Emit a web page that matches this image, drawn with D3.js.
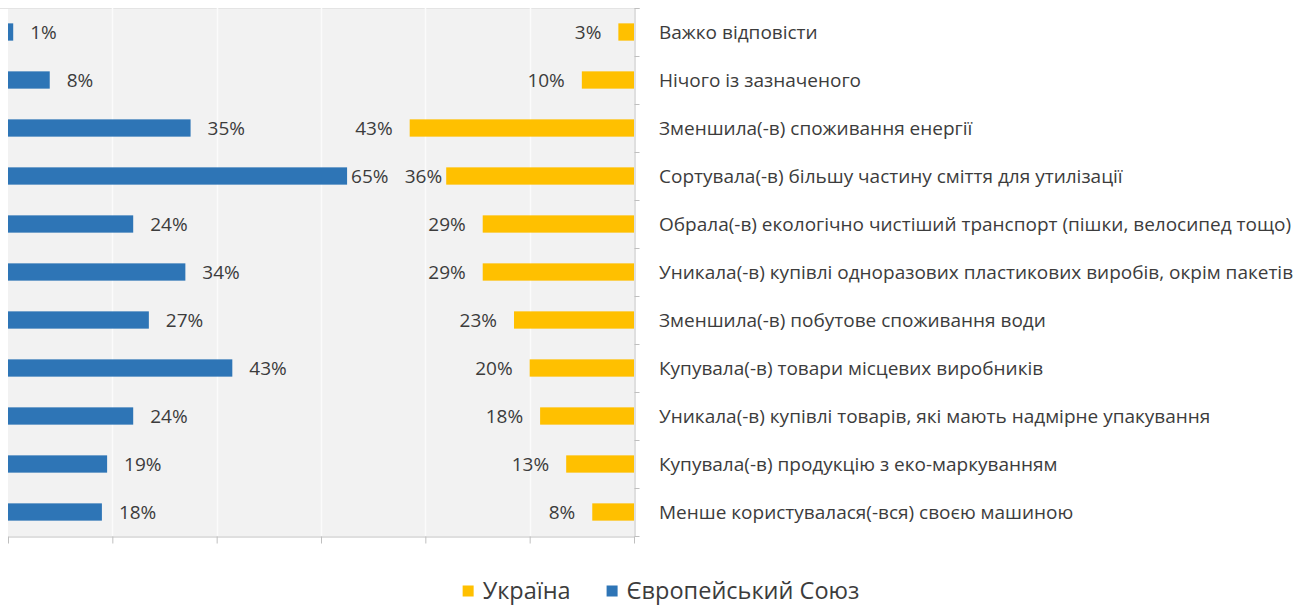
<!DOCTYPE html>
<html>
<head>
<meta charset="utf-8">
<script src="https://cdn.jsdelivr.net/npm/d3@7"></script>
<style>
  html, body { margin: 0; padding: 0; background: #ffffff; }
  svg { display: block; }
  text { font-family: "Open Sans", "Noto Sans", sans-serif; }
</style>
</head>
<body>
<svg id="chart" width="1301" height="606"></svg>
<script>
// Categories, top to bottom
const categories = [
  "Важко відповісти",
  "Нічого із зазначеного",
  "Зменшила(-в) споживання енергії",
  "Сортувала(-в) більшу частину сміття для утилізації",
  "Обрала(-в) екологічно чистіший транспорт (пішки, велосипед тощо)",
  "Уникала(-в) купівлі одноразових пластикових виробів, окрім пакетів",
  "Зменшила(-в) побутове споживання води",
  "Купувала(-в) товари місцевих виробників",
  "Уникала(-в) купівлі товарів, які мають надмірне упакування",
  "Купувала(-в) продукцію з еко-маркуванням",
  "Менше користувалася(-вся) своєю машиною"
];

// Shares of respondents, %
const euValues = [1, 8, 35, 65, 24, 34, 27, 43, 24, 19, 18];
const uaValues = [3, 10, 43, 36, 29, 29, 23, 20, 18, 13, 8];

// Axis ticks (percent)
const axisTicks = [0, 20, 40, 60, 80, 100, 120];

// Legend entries
const legendLabels = ["Україна", "Європейський Союз"];

const BLUE = "#2e75b6";
const YELLOW = "#ffc000";
const TEXT = "#3c3c3c";

const svg = d3.select("#chart");

const plot = { left: 8, right: 634, top: 8, bottom: 536 };

const xEU = d3.scaleLinear().domain([0, 120]).range([plot.left, plot.right]);
const xUA = d3.scaleLinear().domain([0, 120]).range([plot.right, plot.left]);
const y = d3.scaleBand().domain(categories).range([plot.top, plot.bottom])
  .paddingInner(0.64).paddingOuter(0.32);
const yRows = d3.scaleLinear().domain([0, categories.length]).range([plot.top, plot.bottom]);

// Plot background
svg.append("rect")
  .attr("x", plot.left).attr("y", plot.top)
  .attr("width", plot.right - plot.left).attr("height", plot.bottom - plot.top)
  .attr("fill", "#f2f2f2");
svg.append("line")
  .attr("x1", 0).attr("x2", plot.right + 6)
  .attr("y1", plot.top + 0.5).attr("y2", plot.top + 0.5)
  .attr("stroke", "#e4e4e4");

// Vertical gridlines
svg.append("g").selectAll("line")
  .data(axisTicks.slice(1, -1))
  .join("line")
  .attr("x1", d => Math.round(xEU(d)) + 0.5).attr("x2", d => Math.round(xEU(d)) + 0.5)
  .attr("y1", plot.top).attr("y2", plot.bottom)
  .attr("stroke", "#fbfbfb").attr("stroke-width", 1.5);

// Bottom axis
const gx = svg.append("g")
  .attr("transform", `translate(0,${plot.bottom + 0.5})`)
  .call(d3.axisBottom(xEU).tickValues(axisTicks).tickFormat("").tickSize(7).tickSizeOuter(0));
gx.select(".domain").attr("stroke", "#bfbfbf");
gx.selectAll(".tick line").attr("stroke", "#bfbfbf");

// Right category axis with ticks between rows
const gy = svg.append("g")
  .attr("transform", `translate(${plot.right + 0.5},0)`)
  .call(d3.axisRight(yRows).tickValues(d3.range(0, categories.length + 1)).tickFormat("").tickSize(5).tickSizeOuter(0));
gy.select(".domain").attr("stroke", "#bfbfbf");
gy.selectAll(".tick line").attr("stroke", "#bfbfbf");

const rows = categories.map((c, i) => ({ cat: c, eu: euValues[i], ua: uaValues[i] }));

// EU bars grow right from the left edge
svg.append("g").selectAll("rect")
  .data(rows)
  .join("rect")
  .attr("x", xEU(0))
  .attr("y", d => y(d.cat))
  .attr("width", d => xEU(d.eu) - xEU(0))
  .attr("height", y.bandwidth())
  .attr("fill", BLUE);

// Ukraine bars grow left from the right edge
svg.append("g").selectAll("rect")
  .data(rows)
  .join("rect")
  .attr("x", d => xUA(d.ua))
  .attr("y", d => y(d.cat))
  .attr("width", d => xUA(0) - xUA(d.ua))
  .attr("height", y.bandwidth())
  .attr("fill", YELLOW);

// Value labels
const labelSize = 19;
const gap = 17, tightGap = 4;
const euLabels = svg.append("g").selectAll("text")
  .data(rows)
  .join("text")
  .attr("y", d => y(d.cat) + y.bandwidth() / 2)
  .attr("dy", "0.35em")
  .attr("font-size", labelSize)
  .attr("fill", TEXT)
  .attr("text-anchor", "start")
  .text(d => d.eu + "%");
const uaLabels = svg.append("g").selectAll("text")
  .data(rows)
  .join("text")
  .attr("y", d => y(d.cat) + y.bandwidth() / 2)
  .attr("dy", "0.35em")
  .attr("font-size", labelSize)
  .attr("fill", TEXT)
  .attr("text-anchor", "end")
  .text(d => d.ua + "%");

// Place labels outside bar ends; pull them in where the two would collide
const euNodes = euLabels.nodes(), uaNodes = uaLabels.nodes();
rows.forEach((d, i) => {
  const wEU = euNodes[i].getComputedTextLength();
  const wUA = uaNodes[i].getComputedTextLength();
  let g = gap;
  if (xEU(d.eu) + gap + wEU + 8 > xUA(d.ua) - gap - wUA) g = tightGap;
  d3.select(euNodes[i]).attr("x", xEU(d.eu) + g);
  d3.select(uaNodes[i]).attr("x", xUA(d.ua) - g);
});

// Category names on the right
svg.append("g").selectAll("text")
  .data(rows)
  .join("text")
  .attr("x", plot.right + 25)
  .attr("y", d => y(d.cat) + y.bandwidth() / 2)
  .attr("dy", "0.35em")
  .attr("font-size", 19)
  .attr("fill", TEXT)
  .text(d => d.cat);

// Legend
const legend = svg.append("g").attr("transform", "translate(0,591)");
const legendColors = [YELLOW, BLUE];
const sw = 11, swGap = 9, itemGap = 36, legendSize = 23.5;
const items = legend.selectAll("g")
  .data(legendLabels)
  .join("g");
items.append("rect")
  .attr("y", -sw / 2).attr("width", sw).attr("height", sw)
  .attr("fill", (d, i) => legendColors[i]);
items.append("text")
  .attr("x", sw + swGap)
  .attr("dy", "0.35em")
  .attr("font-size", legendSize)
  .attr("fill", TEXT)
  .text(d => d);
const widths = items.nodes().map(n => n.getBBox().width);
const total = d3.sum(widths) + itemGap * (widths.length - 1);
let cx = 661 - total / 2;
items.each(function (d, i) {
  d3.select(this).attr("transform", `translate(${cx},0)`);
  cx += widths[i] + itemGap;
});
</script>
</body>
</html>
